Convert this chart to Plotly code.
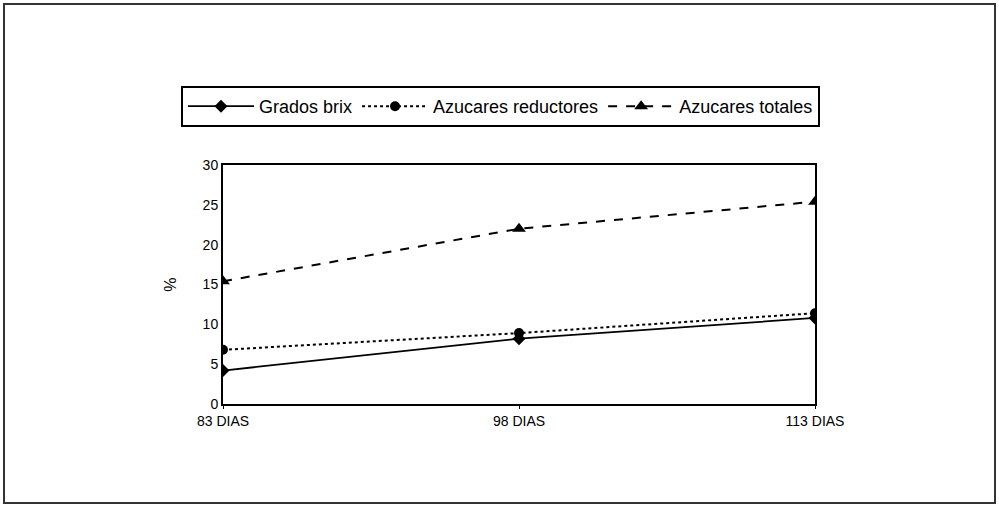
import plotly.graph_objects as go

# Sampling days and measured percentages
dias = ["83 DIAS", "98 DIAS", "113 DIAS"]
grados_brix = [4.2, 8.2, 10.8]
azucares_reductores = [6.8, 8.9, 11.4]
azucares_totales = [15.4, 22.0, 25.4]
y_ticks = [0, 5, 10, 15, 20, 25, 30]

W, H = 999, 506
L, R, T, B = 223, 815, 165, 404  # plot area in pixels


def px_x(p):
    return (p - L) / (R - L)


def px_y(p):
    return (B - p) / (B - T)


xpos = list(range(len(dias)))
font = "Liberation Sans, Arial, sans-serif"

fig = go.Figure()
fig.add_trace(go.Scatter(
    x=xpos, y=grados_brix, name="Grados brix", mode="lines+markers",
    line=dict(color="black", width=1.8, dash="solid"),
    marker=dict(symbol="diamond", size=10, color="black"),
))
fig.add_trace(go.Scatter(
    x=xpos, y=azucares_reductores, name="Azucares reductores", mode="lines+markers",
    line=dict(color="black", width=2, dash="dot"),
    marker=dict(symbol="circle", size=10, color="black"),
))
fig.add_trace(go.Scatter(
    x=xpos, y=azucares_totales, name="Azucares totales", mode="lines+markers",
    line=dict(color="black", width=2, dash="dash"),
    marker=dict(symbol="triangle-up", size=12, color="black"),
))

fig.update_layout(
    width=W, height=H,
    margin=dict(l=L, r=W - R, t=T, b=H - B),
    paper_bgcolor="white", plot_bgcolor="white",
    font=dict(family=font, size=14, color="black"),
    showlegend=True,
    legend=dict(
        orientation="h", x=px_x(181), y=px_y(86), xanchor="left", yanchor="top",
        bordercolor="black", borderwidth=2, bgcolor="white",
        font=dict(size=18, family=font, color="black"),
        itemwidth=66, tracegroupgap=0,
    ),
    xaxis=dict(
        range=[0, 2], tickmode="array", tickvals=xpos, ticktext=dias,
        showgrid=False, zeroline=False, showline=True, linecolor="black",
        linewidth=2, mirror=True, ticks="outside", ticklen=3, tickcolor="black",
        tickfont=dict(size=14), fixedrange=True,
    ),
    yaxis=dict(
        range=[0, 30], tickmode="array", tickvals=y_ticks,
        showgrid=False, zeroline=False, showline=True, linecolor="black",
        linewidth=2, mirror=True, ticks="", tickfont=dict(size=14),
        title=dict(text="%", font=dict(size=16), standoff=22), fixedrange=True,
    ),
    shapes=[dict(
        type="rect", xref="paper", yref="paper",
        x0=px_x(4), x1=px_x(995), y0=px_y(503), y1=px_y(4),
        line=dict(color="#333333", width=2), fillcolor="rgba(0,0,0,0)",
        layer="below",
    )],
)

fig.write_html("out.html")
